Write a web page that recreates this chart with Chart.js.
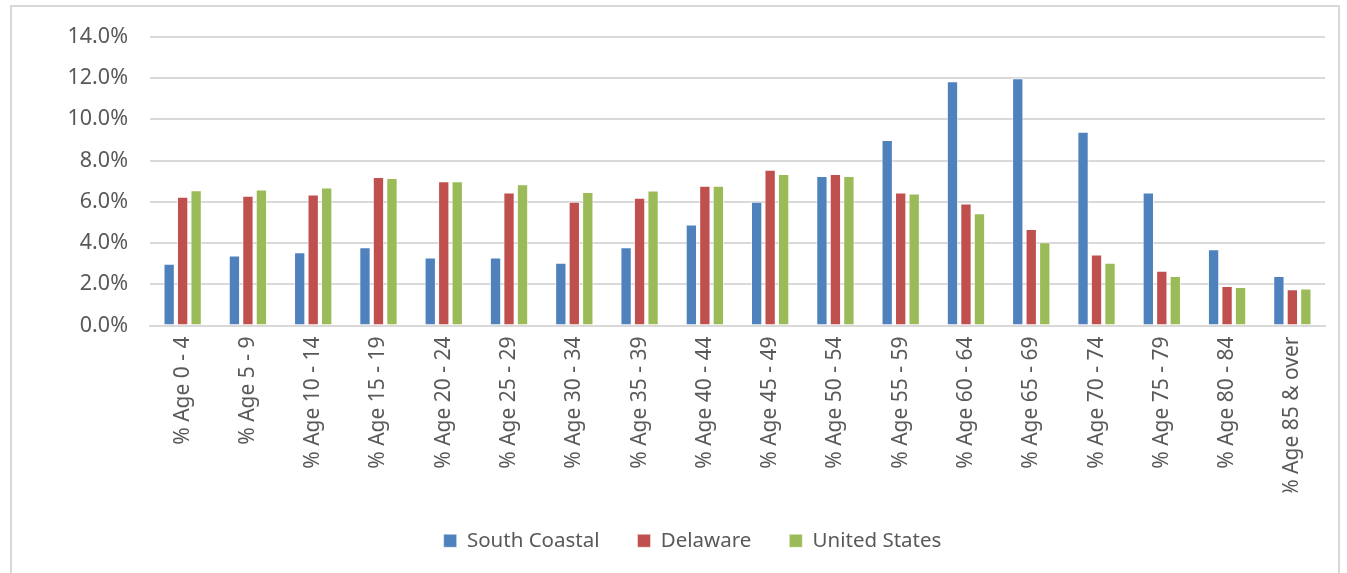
<!DOCTYPE html>
<html>
<head>
<meta charset="utf-8">
<script src="https://cdn.jsdelivr.net/npm/chart.js@4"></script>
<style>
  html, body { margin: 0; padding: 0; background: #fff; width: 1347px; height: 573px; overflow: hidden; }
  #frame { position: absolute; left: 10px; top: 5px; width: 1330px; height: 580px; border: 2px solid #d9d9d9; box-sizing: border-box; }
  #wrap { position: absolute; left: 10px; top: 2px; width: 1330px; height: 571px; }
</style>
</head>
<body>
<div id="frame"></div>
<div id="wrap"><canvas id="ageChart"></canvas></div>
<script>
// categorías de edad
const ageGroups = ['% Age 0 - 4', '% Age 5 - 9', '% Age 10 - 14', '% Age 15 - 19', '% Age 20 - 24',
    '% Age 25 - 29', '% Age 30 - 34', '% Age 35 - 39', '% Age 40 - 44', '% Age 45 - 49',
    '% Age 50 - 54', '% Age 55 - 59', '% Age 60 - 64', '% Age 65 - 69', '% Age 70 - 74',
    '% Age 75 - 79', '% Age 80 - 84', '% Age 85 & over'];

// valores en %
const southCoastal = [3.0, 3.4, 3.55, 3.8, 3.3, 3.3, 3.05, 3.8, 4.9, 6.0, 7.25, 9.0, 11.85, 12.0, 9.4, 6.45, 3.7, 2.4];
const delaware     = [6.25, 6.3, 6.35, 7.2, 7.0, 6.45, 6.0, 6.2, 6.78, 7.55, 7.35, 6.45, 5.92, 4.68, 3.44, 2.66, 1.92, 1.76];
const unitedStates = [6.56, 6.6, 6.7, 7.15, 7.0, 6.85, 6.48, 6.55, 6.78, 7.35, 7.25, 6.4, 5.45, 4.04, 3.04, 2.4, 1.87, 1.8];

const yTicks = [0, 2, 4, 6, 8, 10, 12, 14];

const gray = '#595959';
const family = '"Noto Sans", sans-serif';

function makeSet(label, data, color) {
    return {
        label: label,
        data: data,
        backgroundColor: color,
        borderColor: 'rgba(255,255,255,0.6)',
        borderWidth: { top: 1, left: 1, right: 1, bottom: 0 },
        barPercentage: 0.84,
        categoryPercentage: 0.62
    };
}

// mover la leyenda un poco a la derecha, como en el original
const legendShift = {
    id: 'legendShift',
    afterLayout(chart) {
        chart.legend.left += 25;
        chart.legend.right += 25;
    }
};

new Chart(document.getElementById('ageChart').getContext('2d'), {
    type: 'bar',
    data: {
        labels: ageGroups,
        datasets: [
            makeSet('South Coastal', southCoastal, '#4F81BD'),
            makeSet('Delaware', delaware, '#C0504D'),
            makeSet('United States', unitedStates, '#9BBB59')
        ]
    },
    plugins: [legendShift],
    options: {
        responsive: true,
        maintainAspectRatio: false,
        animation: false,
        layout: { padding: { top: 10, right: 15, left: 0, bottom: 12 } },
        plugins: {
            tooltip: { enabled: false },
            legend: {
                position: 'bottom',
                labels: {
                    color: gray,
                    font: { family: family, size: 20.5 },
                    boxWidth: 13,
                    boxHeight: 13,
                    padding: 38
                }
            }
        },
        scales: {
            x: {
                grid: { display: false },
                border: { color: '#d9d9d9', width: 2 },
                ticks: {
                    color: gray,
                    font: { family: family, size: 21 },
                    minRotation: 90,
                    maxRotation: 90,
                    autoSkip: false
                },
                afterFit: function(scale) { scale.height = 167; }
            },
            y: {
                min: 0,
                max: 14,
                afterBuildTicks: function(scale) {
                    scale.ticks = yTicks.map(v => ({ value: v }));
                },
                grid: { color: '#d9d9d9', lineWidth: 2, drawTicks: false },
                border: { display: false },
                ticks: {
                    color: gray,
                    font: { family: family, size: 21.5 },
                    padding: 22,
                    callback: v => v.toFixed(1) + '%'
                },
                afterFit: function(scale) { scale.width = 140; }
            }
        }
    }
});
</script>
</body>
</html>
